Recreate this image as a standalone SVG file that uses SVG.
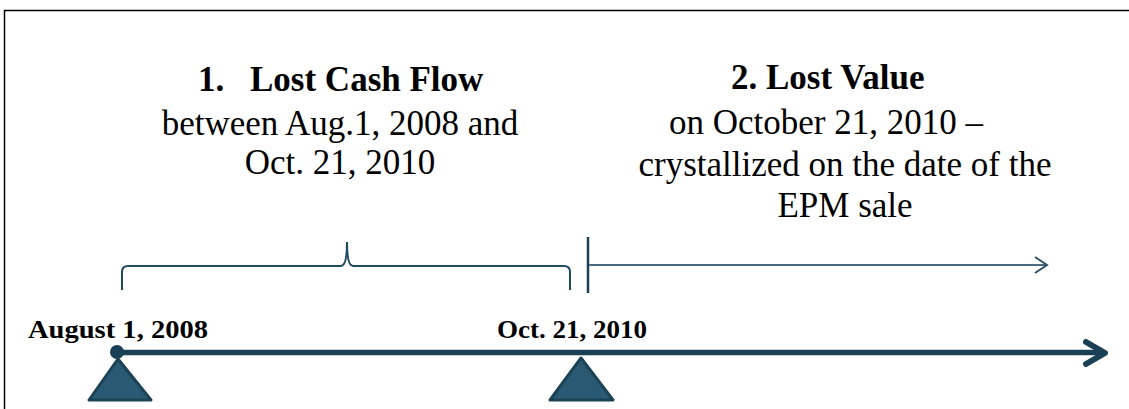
<svg xmlns="http://www.w3.org/2000/svg" width="1129" height="409" viewBox="0 0 1129 409">
<style>
.t{font-family:"Liberation Serif","Times New Roman",serif;fill:#000}
.c{text-anchor:middle}
.h{font-size:35px;font-weight:bold}
.b{font-size:35px}
.d{font-size:26px;font-weight:bold}
.tri{fill:#2a5a73;stroke:#1c4256;stroke-width:3;stroke-linejoin:round}
</style>
<rect width="1129" height="409" fill="#fff"/>
<path d="M4.5,409 V10.5 H1129" fill="none" stroke="#000" stroke-width="1.5"/>
<g id="label-cashflow">
<text class="t h" x="198" y="91">1.</text>
<text class="t h" x="250" y="91">Lost Cash Flow</text>
<text class="t b c" x="340" y="135">between Aug.1, 2008 and</text>
<text class="t b c" x="340" y="174">Oct. 21, 2010</text>
</g>
<g id="label-value">
<text class="t h" x="731" y="89">2. Lost Value</text>
<text class="t b c" x="826" y="134">on October 21, 2010 –</text>
<text class="t b c" x="845" y="176">crystallized on the date of the</text>
<text class="t b c" x="845" y="217">EPM sale</text>
</g>
<g id="connectors" fill="none">
<path d="M122,290 V272 Q122,266 128,266 H341 Q347,266 347,242 Q347,266 353,266 H564 Q570,266 570,272 V290" stroke="#1f4a60" stroke-width="2"/>
<line x1="588" y1="237" x2="588" y2="293" stroke="#1b3f55" stroke-width="2.5"/>
<line x1="589" y1="265" x2="1046" y2="265" stroke="#4a6a80" stroke-width="2"/>
<polyline points="1035,257 1047,265 1035,273" stroke="#2e5268" stroke-width="2"/>
<line x1="117" y1="352.5" x2="1103" y2="352.5" stroke="#1a4055" stroke-width="5.5"/>
<polyline points="1086,342 1105,353 1086,364" stroke="#1a4055" stroke-width="6" stroke-linecap="round" stroke-linejoin="round"/>
</g>
<g id="node-aug">
<circle cx="117" cy="352" r="7" fill="#1a4055"/>
<polygon class="tri" points="118,359 151,400 89,400"/>
<text class="t d" x="28" y="338" textLength="180" lengthAdjust="spacingAndGlyphs">August 1, 2008</text>
</g>
<g id="node-oct">
<polygon class="tri" points="581,358 613,400 550,400"/>
<text class="t d" x="497" y="338" textLength="150" lengthAdjust="spacingAndGlyphs">Oct. 21, 2010</text>
</g>
</svg>
